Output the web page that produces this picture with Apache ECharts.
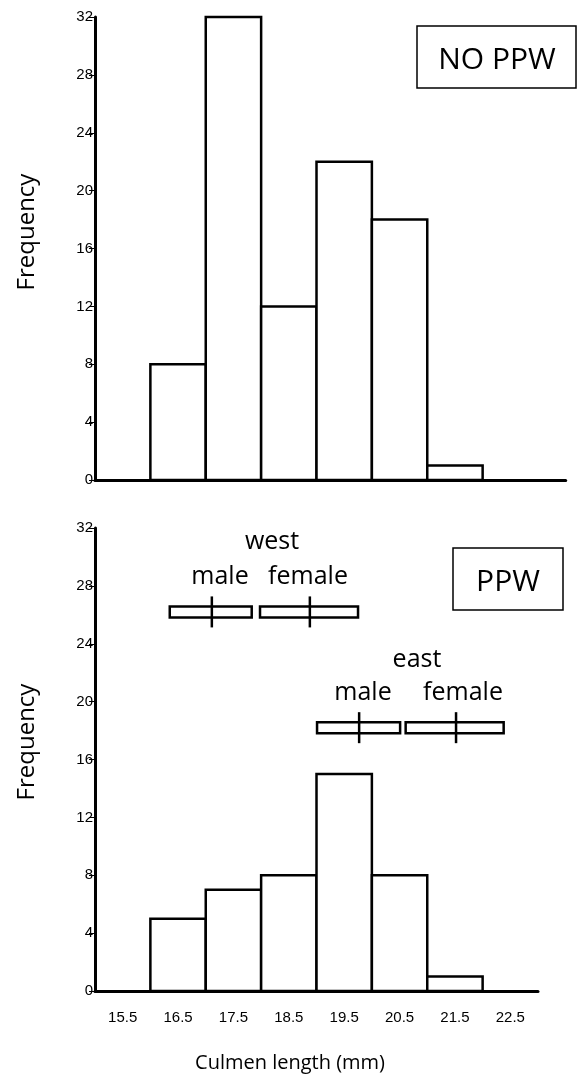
<!DOCTYPE html>
<html>
<head>
<meta charset="utf-8">
<script src="https://cdn.jsdelivr.net/npm/echarts@6/dist/echarts.min.js"></script>
<style>html,body{margin:0;padding:0;background:#fff;}#c{width:578px;height:1074px;}</style>
</head>
<body>
<div id="c"></div>
<script>
// ---- data ----
const binStarts = [15, 16, 17, 18, 19, 20, 21, 22];
const binWidth = 1;
const tickLabels = ['15.5', '16.5', '17.5', '18.5', '19.5', '20.5', '21.5', '22.5'];
const noPpwCounts = [0, 8, 32, 12, 22, 18, 1, 0];
const ppwCounts = [0, 5, 7, 8, 15, 8, 1, 0];

const markerGroups = ['west male', 'west female', 'east male', 'east female'];
const markerLow = [16.35, 17.98, 19.01, 20.61];
const markerHigh = [17.83, 19.75, 20.51, 22.38];
const markerMean = [17.11, 18.88, 19.77, 21.52];
const markerY = [26.2, 26.2, 18.2, 18.2];

// ---- build ----
const histData = counts => binStarts.map((s, i) => [s, s + binWidth, counts[i]]);
const markerData = markerGroups.map((g, i) => [markerLow[i], markerHigh[i], markerMean[i], markerY[i]]);

function renderBar(params, api) {
  const c = api.value(2);
  if (!c) return null;
  const p0 = api.coord([api.value(0), 0]);
  const p1 = api.coord([api.value(1), c]);
  return {
    type: 'rect',
    shape: { x: p0[0], y: p1[1], width: p1[0] - p0[0], height: p0[1] - p1[1] },
    style: { fill: '#fff', stroke: '#000', lineWidth: 2.5 }
  };
}
function renderMarker(params, api) {
  const a = api.coord([api.value(0), api.value(3)]);
  const b = api.coord([api.value(1), api.value(3)]);
  const m = api.coord([api.value(2), api.value(3)]);
  const hh = 5.5, ch = 15.5;
  return {
    type: 'group',
    children: [
      { type: 'rect', shape: { x: a[0], y: a[1] - hh, width: b[0] - a[0], height: 2 * hh },
        style: { fill: '#fff', stroke: '#000', lineWidth: 2.5 } },
      { type: 'line', shape: { x1: m[0], y1: m[1] - ch, x2: m[0], y2: m[1] + ch },
        style: { stroke: '#000', lineWidth: 2.5 } }
    ]
  };
}

const calib = '"Open Sans", "Noto Sans", sans-serif';
const tickFont = '"Liberation Sans", Arial, sans-serif';
const yAxisCommon = {
  type: 'value', min: 0, max: 32, interval: 4,
  splitLine: { show: false },
  axisLine: { show: true, lineStyle: { color: '#000', width: 3 } },
  axisTick: { show: true, length: 6, lineStyle: { color: '#000', width: 1 } },
  axisLabel: { color: '#000', fontFamily: tickFont, fontSize: 15, margin: 2 }
};

const option = {
  animation: false,
  backgroundColor: '#fff',
  grid: [
    { left: 95, top: 17, width: 470.7, height: 463 },
    { left: 95, top: 528, width: 443, height: 463 }
  ],
  xAxis: [
    { gridIndex: 0, type: 'value', min: 15, max: 23.5, splitLine: { show: false },
      axisLine: { show: true, onZero: false, lineStyle: { color: '#000', width: 3 } },
      axisTick: { show: false }, axisLabel: { show: false } },
    { gridIndex: 1, type: 'value', min: 15, max: 23, position: 'bottom', splitLine: { show: false },
      axisLine: { show: true, onZero: false, lineStyle: { color: '#000', width: 3 } },
      axisTick: { show: false }, axisLabel: { show: false } },
    { gridIndex: 1, type: 'category', data: tickLabels, boundaryGap: true, position: 'bottom',
      axisLine: { show: false, onZero: false }, axisTick: { show: false },
      axisLabel: { color: '#000', fontFamily: tickFont, fontSize: 15, margin: 19 } }
  ],
  yAxis: [
    Object.assign({ gridIndex: 0 }, yAxisCommon),
    Object.assign({ gridIndex: 1 }, yAxisCommon)
  ],
  series: [
    { type: 'custom', xAxisIndex: 0, yAxisIndex: 0, renderItem: renderBar, data: histData(noPpwCounts), z: 1 },
    { type: 'custom', xAxisIndex: 1, yAxisIndex: 1, renderItem: renderBar, data: histData(ppwCounts), z: 1 },
    { type: 'custom', xAxisIndex: 1, yAxisIndex: 1, renderItem: renderMarker, data: markerData, z: 2 }
  ],
  graphic: [
    { type: 'text', x: 27, y: 232, rotation: Math.PI / 2, style: { text: 'Frequency', font: '24px ' + calib, fill: '#000', align: 'center', verticalAlign: 'middle' } },
    { type: 'text', x: 27, y: 742, rotation: Math.PI / 2, style: { text: 'Frequency', font: '24px ' + calib, fill: '#000', align: 'center', verticalAlign: 'middle' } },
    { type: 'text', x: 290, y: 1063, style: { text: 'Culmen length (mm)', font: '20px ' + calib, fill: '#000', align: 'center', verticalAlign: 'middle' } },
    { type: 'rect', shape: { x: 417, y: 26, width: 159, height: 62 }, style: { fill: '#fff', stroke: '#000', lineWidth: 1.5 } },
    { type: 'text', x: 497, y: 60, style: { text: 'NO PPW', font: '30px ' + calib, fill: '#000', align: 'center', verticalAlign: 'middle' } },
    { type: 'rect', shape: { x: 453, y: 548, width: 110, height: 62 }, style: { fill: '#fff', stroke: '#000', lineWidth: 1.5 } },
    { type: 'text', x: 508, y: 582, style: { text: 'PPW', font: '30px ' + calib, fill: '#000', align: 'center', verticalAlign: 'middle' } },
    { type: 'text', x: 272, y: 542, style: { text: 'west', font: '25px ' + calib, fill: '#000', align: 'center', verticalAlign: 'middle' } },
    { type: 'text', x: 220, y: 577, style: { text: 'male', font: '25px ' + calib, fill: '#000', align: 'center', verticalAlign: 'middle' } },
    { type: 'text', x: 308, y: 577, style: { text: 'female', font: '25px ' + calib, fill: '#000', align: 'center', verticalAlign: 'middle' } },
    { type: 'text', x: 417, y: 660, style: { text: 'east', font: '25px ' + calib, fill: '#000', align: 'center', verticalAlign: 'middle' } },
    { type: 'text', x: 363, y: 693, style: { text: 'male', font: '25px ' + calib, fill: '#000', align: 'center', verticalAlign: 'middle' } },
    { type: 'text', x: 463, y: 693, style: { text: 'female', font: '25px ' + calib, fill: '#000', align: 'center', verticalAlign: 'middle' } }
  ]
};
const chart = echarts.init(document.getElementById('c'), null, { renderer: 'canvas' });
chart.setOption(option);
</script>
</body>
</html>
